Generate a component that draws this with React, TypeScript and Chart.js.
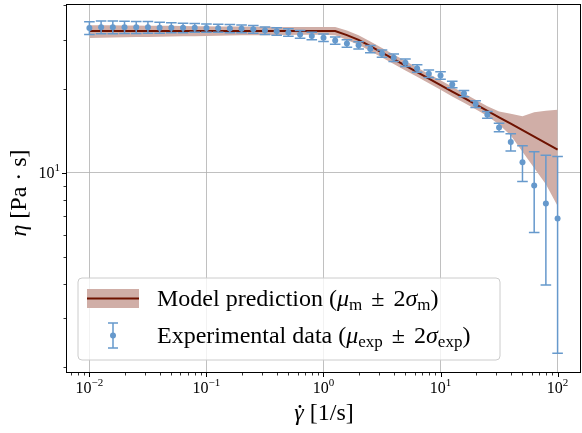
import React, { useEffect, useRef } from 'react';
import { Chart, registerables } from 'chart.js';

Chart.register(...registerables);

// shear rate grid (1/s)
const SHEAR_RATE = [
  0.01, 0.01259, 0.01585, 0.01995, 0.02512, 0.03162, 0.03981, 0.05012, 0.0631, 0.07943,
  0.1, 0.1259, 0.1585, 0.1995, 0.2512, 0.3162, 0.3981, 0.5012, 0.631, 0.7943,
  1, 1.259, 1.585, 1.995, 2.512, 3.162, 3.981, 5.012, 6.31, 7.943,
  10, 12.59, 15.85, 19.95, 25.12, 31.62, 39.81, 50.12, 63.1, 79.43, 100,
];

// experimental data: mean and 2-sigma
const EXP_MEAN = [
  33.1, 33.3, 33.3, 33.3, 33.3, 33.3, 33.2, 33.2, 33.15, 33.15,
  33.1, 33.05, 32.95, 32.9, 32.75, 32.4, 32.2, 31.9, 31.4, 31.0,
  30.55, 29.85, 29.15, 28.7, 27.8, 26.8, 25.9, 24.85, 23.7, 22.7,
  22.35, 20.75, 19.25, 17.65, 16.15, 14.55, 12.9, 10.9, 9.0, 7.75, 6.85,
];
const EXP_ERR = [
  1.75, 1.75, 1.75, 1.7, 1.65, 1.6, 1.5, 1.4, 1.3, 1.2,
  1.15, 1.1, 1.1, 1.05, 1.05, 1.0, 1.0, 1.0, 1.0, 0.95,
  0.95, 0.9, 0.9, 0.85, 0.85, 0.8, 0.8, 0.75, 0.75, 0.7,
  0.7, 0.55, 0.5, 0.5, 0.45, 0.5, 0.92, 1.6, 2.9, 3.8, 4.6,
];

// model prediction: mean and 2-sigma band
const MODEL_MEAN = [
  32.3, 32.3, 32.3, 32.3, 32.3, 32.3, 32.3, 32.3, 32.3, 32.3,
  32.3, 32.3, 32.3, 32.3, 32.3, 32.3, 32.3, 32.3, 32.3, 32.3,
  32.3, 32.3, 31.2, 30.03, 28.47, 26.99, 25.58, 24.25, 22.99, 21.8,
  20.66, 19.58, 18.57, 17.6, 16.69, 15.82, 15.0, 14.22, 13.48, 12.78, 12.11,
];
const MODEL_UPPER = [
  33.9, 33.85, 33.85, 33.8, 33.8, 33.75, 33.7, 33.7, 33.65, 33.6,
  33.6, 33.55, 33.5, 33.5, 33.45, 33.45, 33.4, 33.4, 33.4, 33.4,
  33.4, 33.4, 32.4, 31.2, 29.6, 28.05, 26.6, 25.2, 23.9, 22.65,
  21.5, 20.35, 19.3, 18.3, 17.35, 16.6, 16.3, 15.95, 16.5, 16.7, 16.85,
];
const MODEL_LOWER = [
  30.5, 30.55, 30.6, 30.65, 30.7, 30.75, 30.8, 30.85, 30.9, 30.95,
  31.0, 31.05, 31.1, 31.15, 31.2, 31.2, 31.25, 31.25, 31.3, 31.3,
  31.3, 31.2, 30.0, 28.85, 27.35, 25.95, 24.6, 23.3, 22.1, 20.95,
  19.85, 18.8, 17.85, 16.9, 16.0, 14.9, 13.6, 11.9, 10.4, 9.1, 7.6,
];

const X_MAJOR = [0.01, 0.1, 1, 10, 100];
const X_TICK_BASE = ['10', '10', '10', '10', '10'];
const X_TICK_EXP = ['−2', '−1', '0', '1', '2'];
const Y_MAJOR = [10];
const Y_TICK_BASE = ['10'];
const Y_TICK_EXP = ['1'];

const X_MIN = 0.00631;
const X_MAX = 158.5;
const Y_MIN = 1.91;
const Y_MAX = 40.37;

const BLUE = '#6699cc';
const MAROON = '#6e1200';
const BAND = 'rgb(208,174,167)';
const GRID = '#b0b0b0';
const SERIF = '"Liberation Serif", "DejaVu Serif", serif';

type Run = { t: string; it?: boolean; size: number; dy?: number; pad?: number };

function runFont(r: Run) {
  return `${r.it ? 'italic ' : ''}${r.size}px ${SERIF}`;
}
function runsWidth(ctx: CanvasRenderingContext2D, runs: Run[]) {
  let w = 0;
  for (const r of runs) {
    ctx.font = runFont(r);
    w += ctx.measureText(r.t).width + 2 * (r.pad || 0);
  }
  return w;
}
function drawRuns(ctx: CanvasRenderingContext2D, runs: Run[], x: number, y: number) {
  let cx = x;
  ctx.textAlign = 'left';
  ctx.textBaseline = 'alphabetic';
  for (const r of runs) {
    ctx.font = runFont(r);
    cx += r.pad || 0;
    ctx.fillText(r.t, cx, y + (r.dy || 0));
    cx += ctx.measureText(r.t).width + (r.pad || 0);
  }
}
// spread math spacing around the operator so the entry spans a given width
function drawRunsFit(ctx: CanvasRenderingContext2D, runs: Run[], x: number, y: number, width: number) {
  const natural = runsWidth(ctx, runs);
  const pad = Math.max(3, Math.min(9, (width - natural) / 2));
  drawRuns(ctx, runs.map((r) => (r.t === '±' ? { ...r, pad } : r)), x, y);
}

function minorValues(min: number, max: number) {
  const out: number[] = [];
  for (let k = -4; k <= 3; k++) {
    for (let m = 2; m <= 9; m++) {
      const v = m * Math.pow(10, k);
      if (v >= min && v <= max) out.push(v);
    }
  }
  return out;
}

const customPlugin = {
  id: 'customDraw',
  afterDatasetsDraw(chart: any) {
    const { ctx, scales } = chart;
    const xs = scales.x;
    const ys = scales.y;
    ctx.save();
    ctx.strokeStyle = BLUE;
    ctx.lineWidth = 1.5;
    for (let i = 0; i < SHEAR_RATE.length; i++) {
      const px = xs.getPixelForValue(SHEAR_RATE[i]);
      const top = ys.getPixelForValue(EXP_MEAN[i] + EXP_ERR[i]);
      const bot = ys.getPixelForValue(Math.max(EXP_MEAN[i] - EXP_ERR[i], 0.01));
      ctx.beginPath();
      ctx.moveTo(px, top);
      ctx.lineTo(px, bot);
      ctx.moveTo(px - 5.3, top);
      ctx.lineTo(px + 5.3, top);
      ctx.moveTo(px - 5.3, bot);
      ctx.lineTo(px + 5.3, bot);
      ctx.stroke();
    }
    ctx.restore();
  },
  afterDraw(chart: any) {
    const { ctx, chartArea, scales } = chart;
    const xs = scales.x;
    const ys = scales.y;
    const { left, right, top, bottom } = chartArea;
    ctx.save();

    // spines
    ctx.strokeStyle = '#000';
    ctx.lineWidth = 1;
    ctx.strokeRect(left + 0.5, top + 0.5, right - left - 1, bottom - top - 1);

    // ticks
    ctx.beginPath();
    for (const v of X_MAJOR) {
      const px = Math.round(xs.getPixelForValue(v)) + 0.5;
      ctx.moveTo(px, bottom);
      ctx.lineTo(px, bottom + 4);
    }
    for (const v of Y_MAJOR) {
      const py = Math.round(ys.getPixelForValue(v)) + 0.5;
      ctx.moveTo(left, py);
      ctx.lineTo(left - 4, py);
    }
    ctx.stroke();
    ctx.lineWidth = 0.8;
    ctx.beginPath();
    for (const v of minorValues(X_MIN, X_MAX)) {
      const px = Math.round(xs.getPixelForValue(v)) + 0.5;
      ctx.moveTo(px, bottom);
      ctx.lineTo(px, bottom + 2.5);
    }
    for (const v of minorValues(Y_MIN, Y_MAX)) {
      const py = Math.round(ys.getPixelForValue(v)) + 0.5;
      ctx.moveTo(left, py);
      ctx.lineTo(left - 2.5, py);
    }
    ctx.stroke();

    // tick labels
    ctx.fillStyle = '#000';
    X_MAJOR.forEach((v, i) => {
      const runs: Run[] = [
        { t: X_TICK_BASE[i], size: 16 },
        { t: X_TICK_EXP[i], size: 11, dy: -7 },
      ];
      const w = runsWidth(ctx, runs);
      const px = xs.getPixelForValue(v);
      drawRuns(ctx, runs, px - w / 2, bottom + 20);
    });
    Y_MAJOR.forEach((v, i) => {
      const runs: Run[] = [
        { t: Y_TICK_BASE[i], size: 16 },
        { t: Y_TICK_EXP[i], size: 11, dy: -7 },
      ];
      const w = runsWidth(ctx, runs);
      const py = ys.getPixelForValue(v);
      drawRuns(ctx, runs, left - 6 - w, py + 5);
    });

    // x axis title
    const xRuns: Run[] = [
      { t: 'γ', it: true, size: 24 },
      { t: ' [1/s]', size: 24 },
    ];
    const xw = runsWidth(ctx, xRuns);
    const xStart = 324 - xw / 2;
    drawRuns(ctx, xRuns, xStart, 420);
    ctx.font = runFont(xRuns[0]);
    const gw = ctx.measureText('γ').width;
    ctx.beginPath();
    ctx.arc(xStart + gw * 0.6, 406.5, 1.4, 0, Math.PI * 2);
    ctx.fill();

    // y axis title
    const yRuns: Run[] = [
      { t: 'η', it: true, size: 24 },
      { t: ' [Pa · s]', size: 24 },
    ];
    const yw = runsWidth(ctx, yRuns);
    ctx.save();
    ctx.translate(26, 193);
    ctx.rotate(-Math.PI / 2);
    drawRuns(ctx, yRuns, -yw / 2, 0);
    ctx.restore();

    // legend
    const lx0 = 78, ly0 = 278, lx1 = 500, ly1 = 360, rad = 4;
    ctx.beginPath();
    ctx.moveTo(lx0 + rad, ly0);
    ctx.lineTo(lx1 - rad, ly0);
    ctx.quadraticCurveTo(lx1, ly0, lx1, ly0 + rad);
    ctx.lineTo(lx1, ly1 - rad);
    ctx.quadraticCurveTo(lx1, ly1, lx1 - rad, ly1);
    ctx.lineTo(lx0 + rad, ly1);
    ctx.quadraticCurveTo(lx0, ly1, lx0, ly1 - rad);
    ctx.lineTo(lx0, ly0 + rad);
    ctx.quadraticCurveTo(lx0, ly0, lx0 + rad, ly0);
    ctx.closePath();
    ctx.fillStyle = 'rgba(255,255,255,0.8)';
    ctx.fill();
    ctx.strokeStyle = '#cccccc';
    ctx.lineWidth = 1;
    ctx.stroke();

    // handle 1: band + line
    ctx.fillStyle = BAND;
    ctx.fillRect(87, 289, 52, 19);
    ctx.strokeStyle = MAROON;
    ctx.lineWidth = 2;
    ctx.beginPath();
    ctx.moveTo(87, 298.5);
    ctx.lineTo(139, 298.5);
    ctx.stroke();

    // handle 2: error bar
    ctx.strokeStyle = BLUE;
    ctx.lineWidth = 1.5;
    ctx.beginPath();
    ctx.moveTo(113, 323);
    ctx.lineTo(113, 348);
    ctx.moveTo(108, 323);
    ctx.lineTo(118, 323);
    ctx.moveTo(108, 348);
    ctx.lineTo(118, 348);
    ctx.stroke();
    ctx.fillStyle = BLUE;
    ctx.beginPath();
    ctx.arc(113, 335.5, 3, 0, Math.PI * 2);
    ctx.fill();

    ctx.fillStyle = '#000';
    drawRunsFit(ctx, [
      { t: 'Model prediction (', size: 24 },
      { t: 'μ', it: true, size: 24 },
      { t: 'm', size: 17, dy: 4 },
      { t: '±', size: 24 },
      { t: '2', size: 24 },
      { t: 'σ', it: true, size: 24 },
      { t: 'm', size: 17, dy: 4 },
      { t: ')', size: 24 },
    ], 157, 306, 293);
    drawRunsFit(ctx, [
      { t: 'Experimental data (', size: 24 },
      { t: 'μ', it: true, size: 24 },
      { t: 'exp', size: 17, dy: 4 },
      { t: '±', size: 24 },
      { t: '2', size: 24 },
      { t: 'σ', it: true, size: 24 },
      { t: 'exp', size: 17, dy: 4 },
      { t: ')', size: 24 },
    ], 157, 343, 331);

    ctx.restore();
  },
};

export default function App() {
  const canvasRef = useRef<HTMLCanvasElement | null>(null);

  useEffect(() => {
    const canvas = canvasRef.current;
    if (!canvas) return;
    const pts = (ys: number[]) => SHEAR_RATE.map((x, i) => ({ x, y: ys[i] }));
    const chart = new Chart(canvas, {
      type: 'line',
      data: {
        datasets: [
          {
            label: 'upper',
            data: pts(MODEL_UPPER),
            borderWidth: 0,
            borderColor: 'rgba(0,0,0,0)',
            backgroundColor: BAND,
            pointRadius: 0,
            fill: '+1',
            order: 3,
          },
          {
            label: 'lower',
            data: pts(MODEL_LOWER),
            borderWidth: 0,
            borderColor: 'rgba(0,0,0,0)',
            pointRadius: 0,
            fill: false,
            order: 3,
          },
          {
            label: 'mean',
            data: pts(MODEL_MEAN),
            borderColor: MAROON,
            borderWidth: 2,
            pointRadius: 0,
            fill: false,
            order: 1,
          },
          {
            label: 'exp',
            data: pts(EXP_MEAN),
            showLine: false,
            pointRadius: 3,
            pointBorderWidth: 0,
            pointBackgroundColor: BLUE,
            borderColor: BLUE,
            fill: false,
            order: 0,
          },
        ],
      } as any,
      options: {
        responsive: false,
        animation: false,
        devicePixelRatio: 1,
        events: [],
        layout: { padding: { top: 2, right: 0, left: 0, bottom: 0 } },
        plugins: {
          legend: { display: false },
          tooltip: { enabled: false },
          filler: { drawTime: 'beforeDatasetsDraw' },
        } as any,
        scales: {
          x: {
            type: 'logarithmic',
            bounds: 'data',
            min: X_MIN,
            max: X_MAX,
            afterBuildTicks: (s: any) => {
              s.ticks = X_MAJOR.map((v) => ({ value: v }));
            },
            afterFit: (s: any) => {
              s.height = 60;
            },
            ticks: { display: false },
            grid: { color: GRID, lineWidth: 0.8, drawTicks: false },
            border: { display: false },
          },
          y: {
            type: 'logarithmic',
            bounds: 'data',
            min: Y_MIN,
            max: Y_MAX,
            afterBuildTicks: (s: any) => {
              s.ticks = Y_MAJOR.map((v) => ({ value: v }));
            },
            afterFit: (s: any) => {
              s.width = 66;
            },
            ticks: { display: false },
            grid: { color: GRID, lineWidth: 0.8, drawTicks: false },
            border: { display: false },
          },
        },
      } as any,
      plugins: [customPlugin],
    });
    return () => chart.destroy();
  }, []);

  return (
    <div
      style={{
        position: 'fixed',
        left: 0,
        top: 0,
        width: 582,
        height: 433,
        overflow: 'hidden',
        background: '#fff',
      }}
    >
      <div style={{ width: 585, height: 433 }}>
        <canvas
          ref={canvasRef}
          width={585}
          height={433}
          style={{ display: 'block', width: 585, height: 433 }}
        />
      </div>
    </div>
  );
}
